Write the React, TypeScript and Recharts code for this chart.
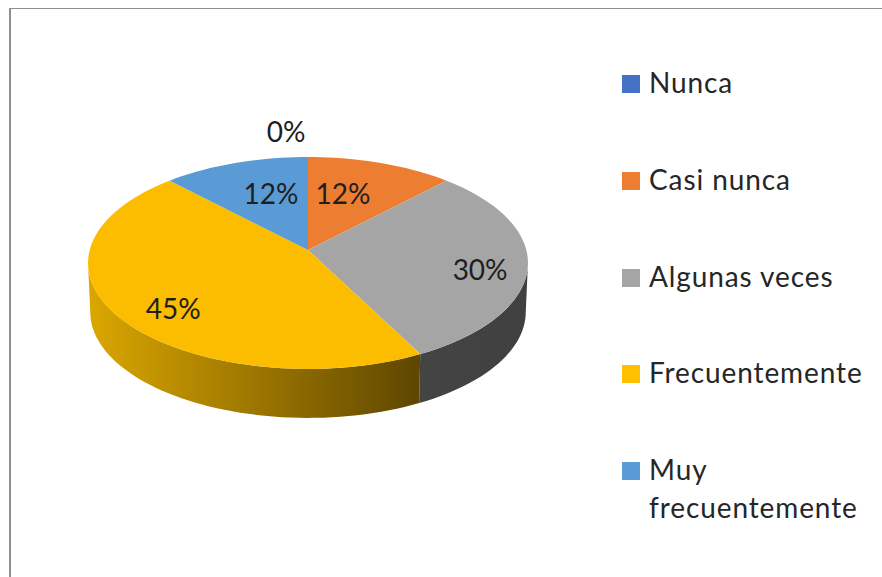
import { PieChart, Pie, Legend } from 'recharts'

const categories = ['Nunca', 'Casi nunca', 'Algunas veces', 'Frecuentemente', 'Muy frecuentemente']
const shares = [0, 12, 30, 45, 12]
const colors = ['#4472C4', '#ED7D31', '#A5A5A5', '#FFC000', '#5B9BD5']
const faceColors = ['#4472C4', '#ED7D31', '#A5A5A5', '#FCBC00', '#5B9BD5']
const wallStops = [
  ['#3A5F9F', '#2F4B7F'],
  ['#B85F22', '#8F4A1A'],
  ['#444444', '#404040'],
  ['#DBA700', '#5E4600'],
  ['#4A80B0', '#3A6590'],
]

const tableData = categories.map((name, i) => ({ name, value: shares[i], fill: faceColors[i] }))

const FONT = 'Lato, sans-serif'
const TILT = 0.478
const PERSPECTIVE = 0.1226
const DEPTH = 49
const BASE_SHRINK = 0.99
// the side wall only shows between the widest points of the ellipse
const WALL_FROM = 97
const WALL_TO = 263

// hand placed because Excel's best-fit labels follow no single radius
const labelPlacement = [
  { r: 1.14, dx: -22, dy: -15 },
  { r: 0.62, dx: -12, dy: -1 },
  { r: 0.79, dx: -1, dy: 7 },
  { r: 0.8, dx: 16, dy: 7 },
  { r: 0.62, dx: 10, dy: -1 },
]

function project(cx: number, cy: number, radius: number, clockDeg: number, r = 1) {
  const a = (clockDeg * Math.PI) / 180
  const u = r * Math.sin(a)
  const v = r * Math.cos(a)
  const d = 1 + PERSPECTIVE * v
  return { x: cx + (radius * u) / d, y: cy - (radius * TILT * v) / d }
}

function arcPoints(cx: number, cy: number, radius: number, from: number, to: number) {
  const pts = []
  const steps = Math.max(2, Math.ceil(Math.abs(to - from) / 2))
  for (let i = 0; i <= steps; i++) {
    pts.push(project(cx, cy, radius, from + ((to - from) * i) / steps))
  }
  return pts
}

function PieSlice(props: any) {
  const { cx, cy, outerRadius, startAngle, endAngle, fill, index } = props
  const from = 90 - startAngle
  const to = 90 - endAngle
  if (to - from <= 0) return null

  const top = arcPoints(cx, cy, outerRadius, from, to)
  const topPath = `M${cx},${cy} ` + top.map((p) => `L${p.x},${p.y}`).join(' ') + ' Z'

  const wallFrom = Math.max(from, WALL_FROM)
  const wallTo = Math.min(to, WALL_TO)
  let wall = null
  if (wallTo > wallFrom) {
    const edge = arcPoints(cx, cy, outerRadius, wallFrom, wallTo)
    const base = edge
      .slice()
      .reverse()
      .map((p) => ({ x: cx + (p.x - cx) * BASE_SHRINK, y: p.y + DEPTH }))
    const d = [...edge, ...base].map((p, i) => `${i ? 'L' : 'M'}${p.x},${p.y}`).join(' ') + ' Z'
    const xs = edge.map((p) => p.x)
    const id = `wall-${index}`
    wall = (
      <g>
        <defs>
          <linearGradient id={id} gradientUnits="userSpaceOnUse" x1={Math.min(...xs)} x2={Math.max(...xs)} y1={0} y2={0}>
            <stop offset="0%" stopColor={wallStops[index][0]} />
            <stop offset="100%" stopColor={wallStops[index][1]} />
          </linearGradient>
        </defs>
        <path d={d} fill={`url(#${id})`} />
      </g>
    )
  }

  return (
    <g>
      {wall}
      <path d={topPath} fill={fill} />
    </g>
  )
}

function sliceLabel(props: any) {
  const { cx, cy, outerRadius, midAngle, value, index } = props
  const place = labelPlacement[index]
  const p = project(cx, cy, outerRadius, 90 - midAngle, place.r)
  return (
    <text
      x={p.x + place.dx}
      y={p.y + place.dy}
      fill="#1f1f1f"
      fontSize={28}
      fontFamily={FONT}
      textAnchor="middle"
      dominantBaseline="central"
    >
      {`${value}%`}
    </text>
  )
}

function LegendList() {
  return (
    <div style={{ fontFamily: FONT, fontSize: 28, letterSpacing: 0.9, color: '#262626' }}>
      {categories.map((name, i) => (
        <div key={name} style={{ height: 96.8, display: 'flex', alignItems: 'flex-start', width: 250 }}>
          <span style={{ width: 18, height: 18, background: colors[i], marginTop: 10, flex: 'none' }} />
          <span style={{ marginLeft: 9, lineHeight: '38px', marginTop: -2 }}>{name}</span>
        </div>
      ))}
    </div>
  )
}

export default function App() {
  return (
    <div style={{ position: 'absolute', left: 0, top: 0, width: 882, height: 577, overflow: 'hidden', background: '#fff' }}>
      <div style={{ position: 'absolute', left: 9, top: 8, width: 873, height: 569, borderTop: '1.5px solid #8f8f8f', borderLeft: '2px solid #8f8f8f', boxSizing: 'border-box' }} />
      <PieChart width={882} height={577} margin={{ top: 0, right: 0, bottom: 0, left: 0 }}>
        <Pie
          data={tableData}
          dataKey="value"
          nameKey="name"
          cx={308}
          cy={250}
          outerRadius={218.3}
          startAngle={90}
          endAngle={-270}
          stroke="none"
          shape={PieSlice}
          label={sliceLabel}
          labelLine={false}
          isAnimationActive={false}
        />
        <Legend content={<LegendList />} wrapperStyle={{ left: 622, top: 65, width: 255 }} />
      </PieChart>
    </div>
  )
}
